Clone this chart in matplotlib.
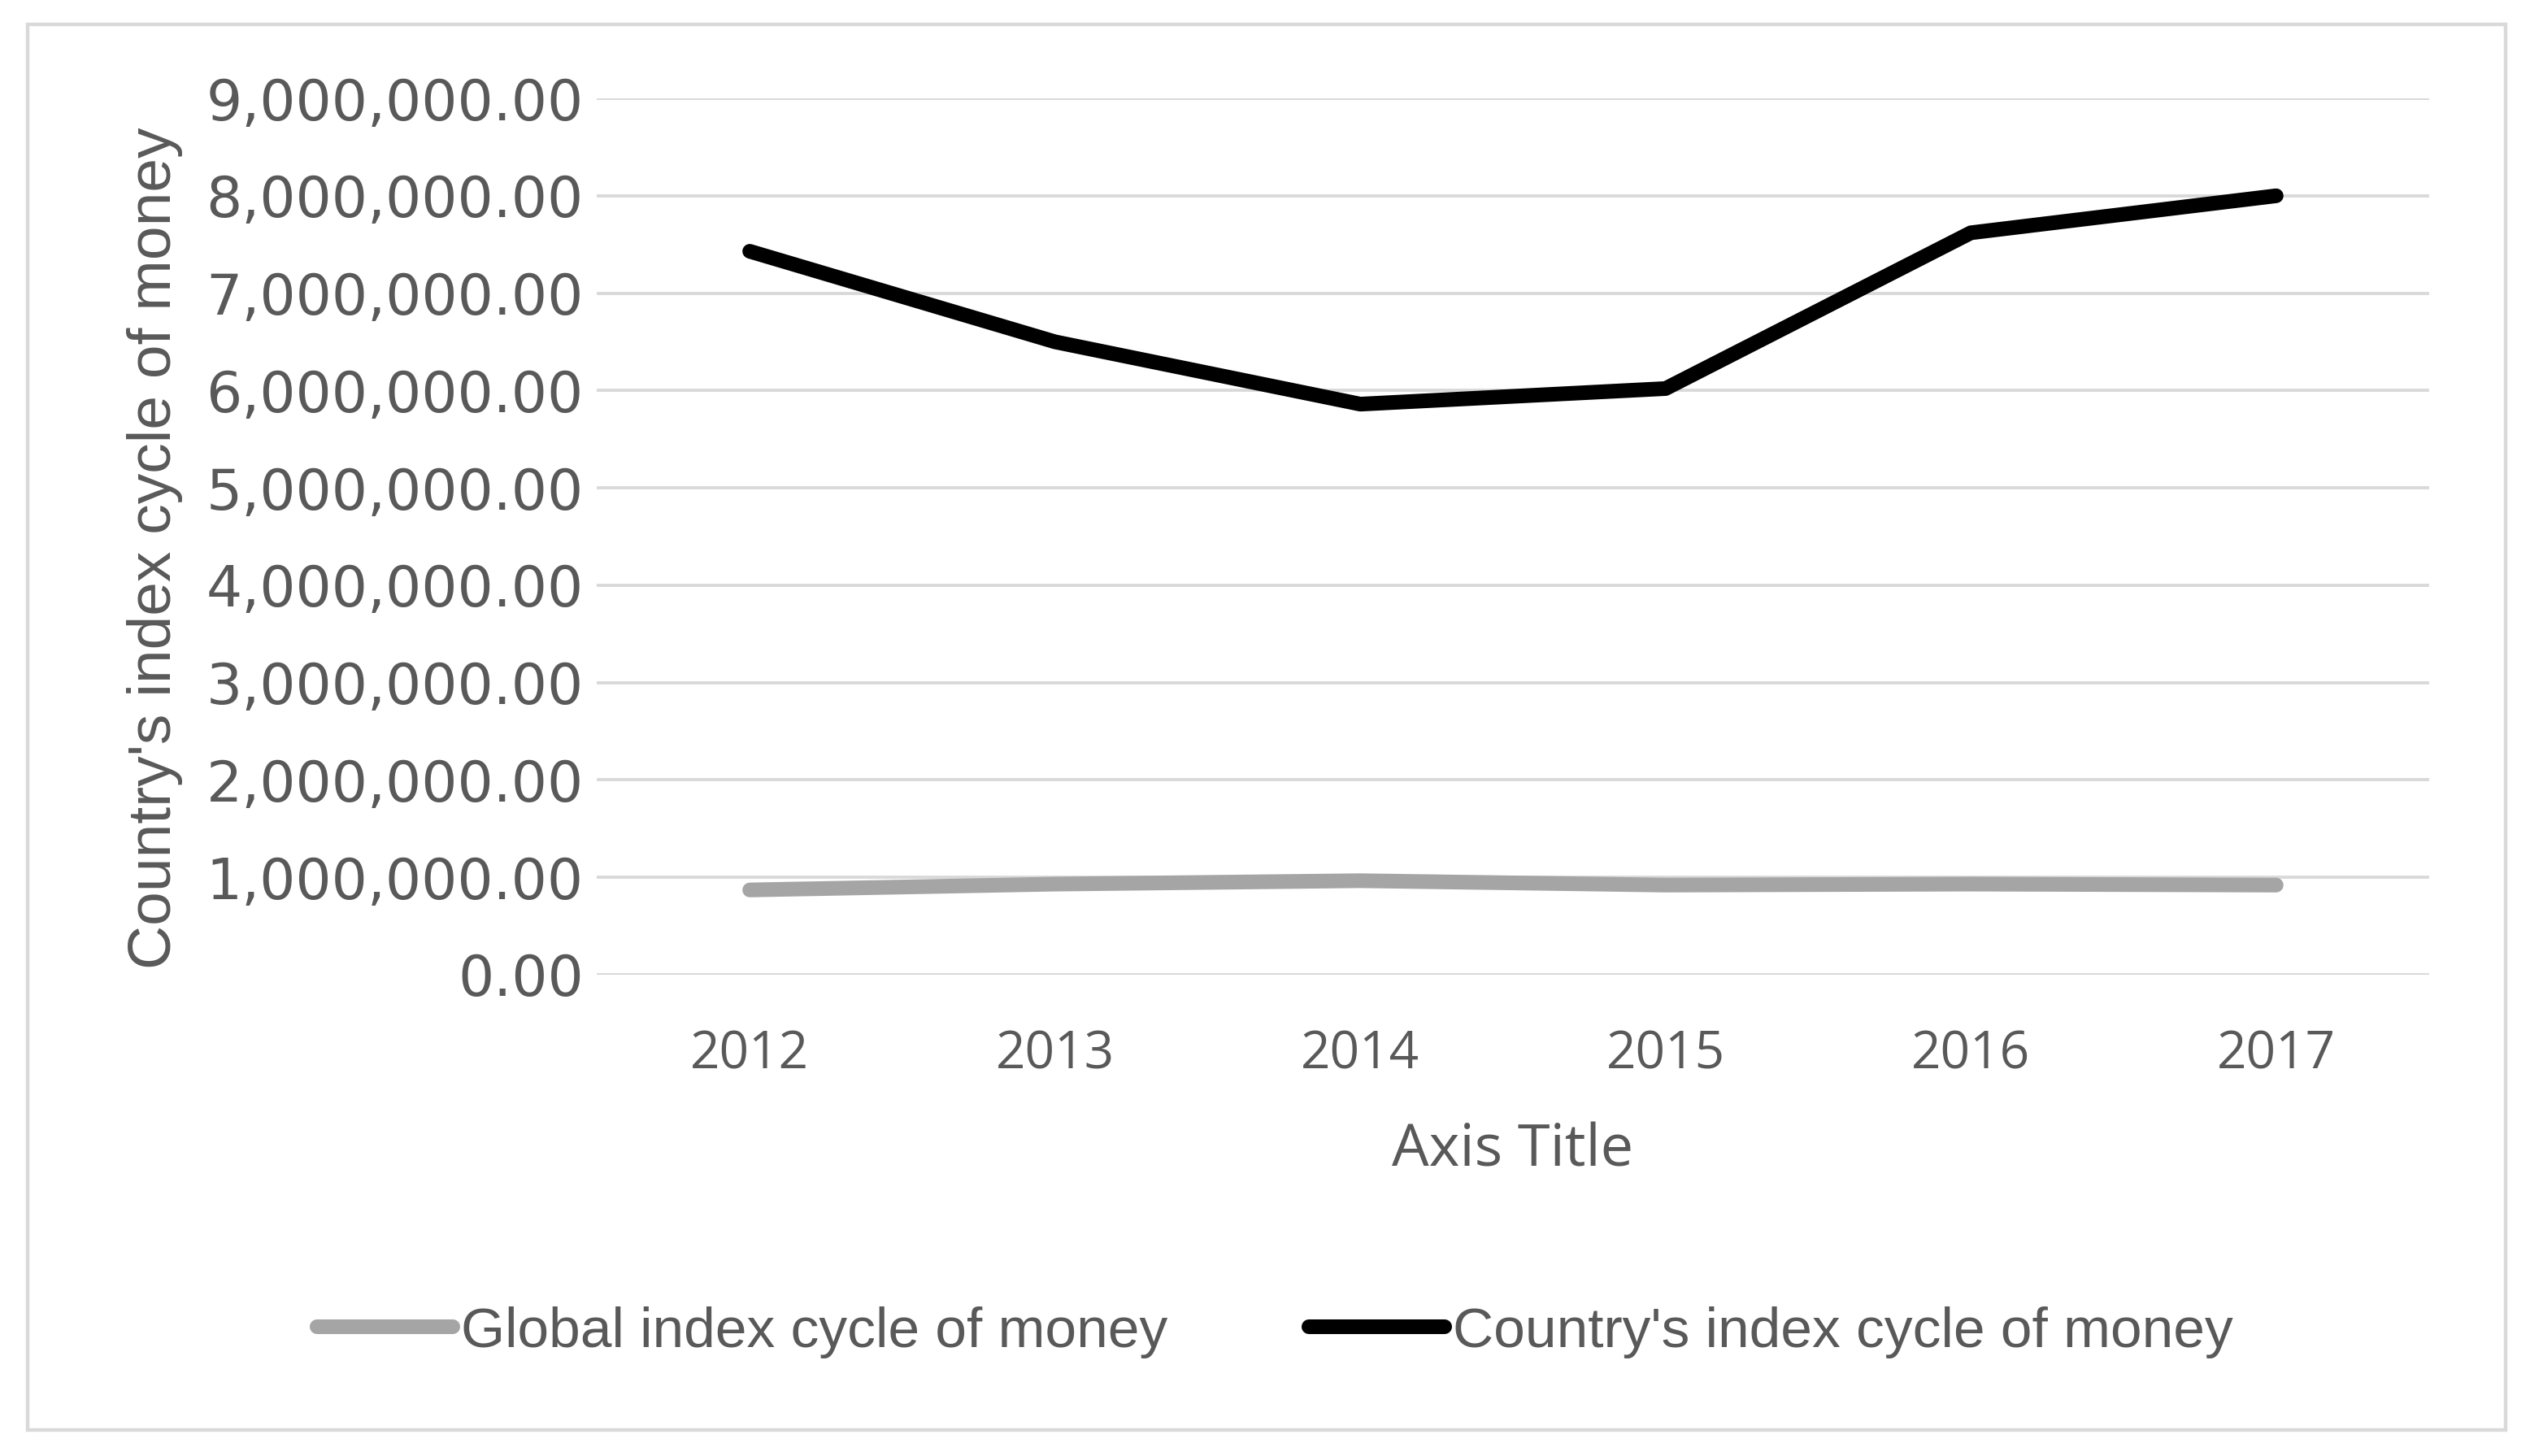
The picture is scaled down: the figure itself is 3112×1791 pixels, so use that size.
import matplotlib.pyplot as plt
from matplotlib.patches import Rectangle
from matplotlib.ticker import FuncFormatter

# ------------------------------------------------------------
# DATA
# ------------------------------------------------------------
years = ["2012", "2013", "2014", "2015", "2016", "2017"]
global_index = [870000, 930000, 965000, 920000, 930000, 920000]
country_index = [7430000, 6500000, 5860000, 6020000, 7620000, 8000000]
y_ticks = [0, 1000000, 2000000, 3000000, 4000000, 5000000,
           6000000, 7000000, 8000000, 9000000]

GRID = "#d9d9d9"
TEXT = "#595959"
NARROW = ["Liberation Sans", "DejaVu Sans"]

fig = plt.figure(figsize=(15.56, 8.955), dpi=200)
ax = fig.add_axes([0.236, 0.3306, 0.724, 0.6018])

x = range(len(years))
ax.plot(x, global_index, color="#a5a5a5", lw=6.5, solid_capstyle="round",
        label="Global index cycle of money", zorder=3)
ax.plot(x, country_index, color="black", lw=6.5, solid_capstyle="round",
        label="Country's index cycle of money", zorder=4)

ax.set_xlim(-0.5, len(years) - 0.5)
ax.set_ylim(0, 9000000)
ax.set_yticks(y_ticks)
ax.yaxis.set_major_formatter(FuncFormatter(lambda v, p: f"{v:,.2f}"))
ax.set_xticks(list(x))
ax.set_xticklabels(years)

ax.grid(axis="y", color=GRID, lw=1.4)
ax.set_axisbelow(True)
for s in ax.spines.values():
    s.set_visible(False)
ax.tick_params(length=0)
ax.tick_params(axis="y", pad=6, labelsize=25, labelcolor=TEXT)
ax.tick_params(axis="x", pad=24, labelsize=23, labelcolor=TEXT)
for t in ax.get_yticklabels():
    t.set_family("DejaVu Sans")
for t in ax.get_xticklabels():
    t.set_family("Open Sans")

ax.set_xlabel("Axis Title", fontsize=26, color=TEXT, family="Open Sans",
              labelpad=18)
ax.set_ylabel("Country's index cycle of money", fontsize=27, color=TEXT,
              family=NARROW)
ax.yaxis.set_label_coords(-0.226, 0.487)

leg = fig.legend(loc="center", bbox_to_anchor=(0.504, 0.085), ncol=2,
                 frameon=False, handlelength=2.4, handletextpad=0.15,
                 columnspacing=2.5, prop={"family": NARROW, "size": 25})
for t in leg.get_texts():
    t.set_color(TEXT)
for h in leg.get_lines():
    h.set_linewidth(6.5)

# chart border
fig.patches.append(Rectangle((0.0108, 0.0177), 0.9796, 0.9657,
                             transform=fig.transFigure, fill=False,
                             edgecolor=GRID, lw=1.6))

fig.savefig("out.png", dpi=200, facecolor="white")
